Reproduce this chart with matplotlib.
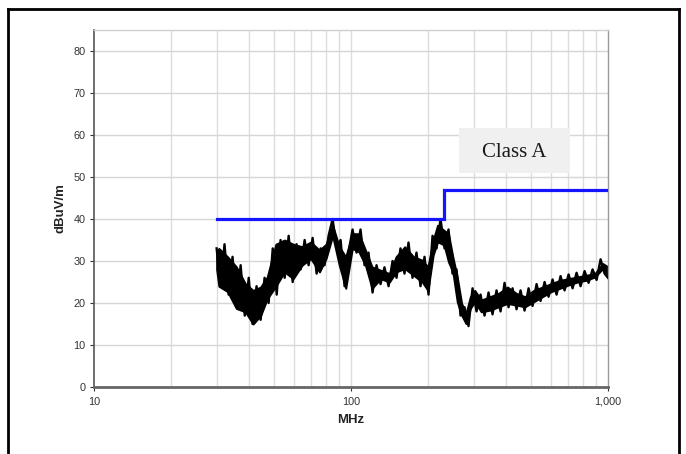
import matplotlib
matplotlib.use("Agg")
import matplotlib.pyplot as plt
from matplotlib.lines import Line2D
from matplotlib.patches import Rectangle
from matplotlib.ticker import FixedLocator, FixedFormatter, NullLocator

# ---- data ----
# dense scan (noisy peaks/troughs), MHz and dBuV/m
scan_freq = [30.0, 31.1, 32.2, 33.4, 34.6, 35.9, 37.2, 38.6, 40.0, 41.4,
             42.9, 44.5, 46.1, 47.8, 49.6, 51.4, 53.2, 55.2, 57.2, 59.3,
             61.4, 63.7, 66.0, 68.4, 70.9, 73.5, 76.2, 78.9, 81.8, 84.8,
             87.9, 91.1, 94.4, 97.8, 101.4, 105.1, 108.9, 112.9, 117.0, 121.3,
             125.7, 130.3, 135.0, 140.0, 145.1, 150.4, 155.8, 161.5, 167.4, 173.5,
             179.8, 186.4, 193.2, 200.3, 207.6, 215.2, 223.0, 231.2, 239.6, 248.3,
             257.4, 266.8, 276.5, 286.6, 297.1, 307.9, 319.2, 330.8, 342.9, 355.4,
             368.4, 381.8, 395.8, 410.2, 425.2, 440.7, 456.8, 473.5, 490.8, 508.7,
             527.3, 546.5, 566.5, 587.2, 608.6, 630.8, 653.8, 677.7, 702.4, 728.1,
             754.6, 782.2, 810.8, 840.4, 871.0, 902.8, 935.8, 969.9, 1000.0]
scan_level = [33.0, 24.0, 34.0, 22.0, 31.0, 19.0, 29.0, 17.0, 26.0, 15.0,
              24.0, 16.0, 26.0, 20.0, 33.0, 22.0, 35.0, 26.0, 36.0, 25.0,
              34.0, 28.0, 35.0, 29.0, 35.5, 27.0, 33.0, 29.0, 36.0, 40.0,
              33.0, 35.0, 24.0, 32.0, 37.5, 32.0, 37.5, 29.0, 32.0, 22.5,
              29.0, 24.5, 28.5, 24.0, 30.0, 26.0, 33.0, 27.0, 34.4, 26.0,
              32.0, 24.0, 31.0, 22.0, 36.0, 33.0, 40.0, 33.0, 37.5, 27.0,
              28.0, 17.0, 19.0, 14.5, 23.5, 18.0, 22.0, 17.0, 22.5, 17.3,
              23.0, 18.0, 24.8, 19.0, 23.5, 18.5, 23.0, 18.2, 23.5, 19.3,
              24.5, 20.5, 25.0, 21.5, 25.6, 22.0, 26.4, 23.0, 26.8, 23.5,
              27.2, 24.0, 27.6, 24.8, 28.0, 25.5, 30.4, 27.0, 26.0]

# solid core of the noise band
core_freq = [30.0, 30.6, 33.1, 35.8, 38.8, 41.6, 44.5, 47.2, 51.0, 55.1, 59.6, 64.5,
             69.7, 75.4, 80.0, 84.8, 90.0, 95.4, 101.2, 107.3, 113.8, 120.7, 130.5,
             141.1, 149.7, 161.9, 175.1, 189.3, 199.2, 208.8, 217.1, 230.2, 239.4,
             249.0, 259.0, 269.4, 280.1, 291.3, 302.9, 321.2, 347.4, 375.6, 406.3,
             439.6, 475.2, 514.0, 555.8, 601.1, 650.1, 703.0, 760.3, 822.2, 889.2,
             954.1, 1000.0]
core_upper = [32.0, 33.0, 31.0, 28.6, 24.6, 23.0, 23.8, 26.2, 34.0, 35.0, 34.0, 33.4,
              34.5, 32.6, 34.0, 38.5, 33.4, 31.0, 36.5, 36.5, 32.6, 28.6, 27.8,
              27.0, 31.0, 33.4, 31.0, 30.2, 28.6, 35.0, 38.5, 37.3, 36.5,
              31.0, 26.2, 19.9, 17.5, 21.5, 23.0, 20.7, 21.5, 22.3, 23.8,
              22.3, 21.5, 23.0, 23.8, 24.6, 25.4, 25.8, 26.2, 26.6, 27.0,
              29.4, 28.6]
core_lower = [28.0, 24.0, 22.7, 18.7, 17.9, 15.0, 17.0, 21.0, 24.0, 27.4, 25.8, 29.0,
              30.6, 27.4, 30.6, 36.0, 29.0, 23.5, 33.0, 32.2, 29.0, 23.5, 25.8,
              25.0, 27.4, 28.2, 26.6, 25.0, 23.0, 31.4, 34.6, 33.8, 29.8,
              27.4, 20.3, 17.1, 15.1, 18.7, 20.3, 17.9, 18.3, 19.1, 19.9,
              19.5, 19.1, 20.3, 21.5, 22.7, 23.5, 24.3, 25.0, 25.4, 26.2,
              28.2, 26.6]

limit_freq = [30, 230, 230, 1000]
limit_level = [40, 40, 47, 47]

x_ticks = [10, 100, 1000]
x_tick_labels = ["10", "100", "1,000"]
y_ticks = [0, 10, 20, 30, 40, 50, 60, 70, 80]
minor_grid_freqs = [20, 30, 40, 50, 60, 70, 80, 90, 200, 300, 400, 500, 600, 700, 800, 900]

legend_text = "Class A"
x_label = "MHz"
y_label = "dBuV/m"

# ---- figure ----
W, H = 686, 454
fig = plt.figure(figsize=(W / 100, H / 100), dpi=100)
fig.patch.set_facecolor("white")

ax = fig.add_axes([94 / W, 1 - 387 / H, (608 - 94) / W, (387 - 30) / H])
ax.set_xscale("log")
ax.set_xlim(10, 1000)
ax.set_ylim(0, 85)

# grid
for f in minor_grid_freqs + [100]:
    ax.axvline(f, color="#dcdcdc", lw=1.0, zorder=0)
for yv in y_ticks[1:]:
    ax.axhline(yv, color="#d6d6d6", lw=1.0, zorder=0)

# trace
ax.fill_between(core_freq, core_lower, core_upper, color="black", lw=1.4, edgecolor="black", zorder=2)
ax.plot(scan_freq, scan_level, color="black", lw=1.7, zorder=3)

# limit line
ax.plot(limit_freq, limit_level, color="#1414ff", lw=2.3, zorder=4, solid_joinstyle="miter")

# ticks
ax.xaxis.set_major_locator(FixedLocator(x_ticks))
ax.xaxis.set_major_formatter(FixedFormatter(x_tick_labels))
ax.xaxis.set_minor_locator(NullLocator())
ax.set_yticks(y_ticks)
ax.tick_params(axis="both", labelsize=7.8, colors="#333333", length=3, width=0.8, pad=3)
ax.tick_params(axis="x", pad=4)
for lbl in ax.get_xticklabels() + ax.get_yticklabels():
    lbl.set_fontfamily("Liberation Sans")

# spines
ax.spines["left"].set_color("#555555")
ax.spines["left"].set_linewidth(1.2)
ax.spines["bottom"].set_color("#666666")
ax.spines["bottom"].set_linewidth(2.0)
ax.spines["right"].set_color("#999999")
ax.spines["right"].set_linewidth(1.0)
ax.spines["top"].set_color("#d0d0d0")
ax.spines["top"].set_linewidth(1.0)

ax.set_xlabel(x_label, fontsize=9.5, fontweight="bold", family="Liberation Sans", color="#222222", labelpad=5)
ax.set_ylabel(y_label, fontsize=9.5, fontweight="bold", family="Liberation Sans", color="#222222", labelpad=5)

# Class A box
ax.add_patch(Rectangle((0.710, 0.599), 0.216, 0.127, transform=ax.transAxes,
                       facecolor="#f0f0f0", edgecolor="none", zorder=5))
ax.text(0.818, 0.657, legend_text, transform=ax.transAxes, ha="center", va="center",
        fontsize=15, family="Liberation Serif", color="#1a1a1a", zorder=6)

# outer frame (top, left, right)
lw_frame = 2.0
fig.add_artist(Line2D([8 / W, 679 / W], [1 - 8.5 / H, 1 - 8.5 / H], color="black", lw=lw_frame, transform=fig.transFigure))
fig.add_artist(Line2D([8 / W, 8 / W], [0, 1 - 8.5 / H], color="black", lw=lw_frame, transform=fig.transFigure))
fig.add_artist(Line2D([679 / W, 679 / W], [0, 1 - 8.5 / H], color="black", lw=lw_frame, transform=fig.transFigure))

fig.savefig("out.png", dpi=100)
